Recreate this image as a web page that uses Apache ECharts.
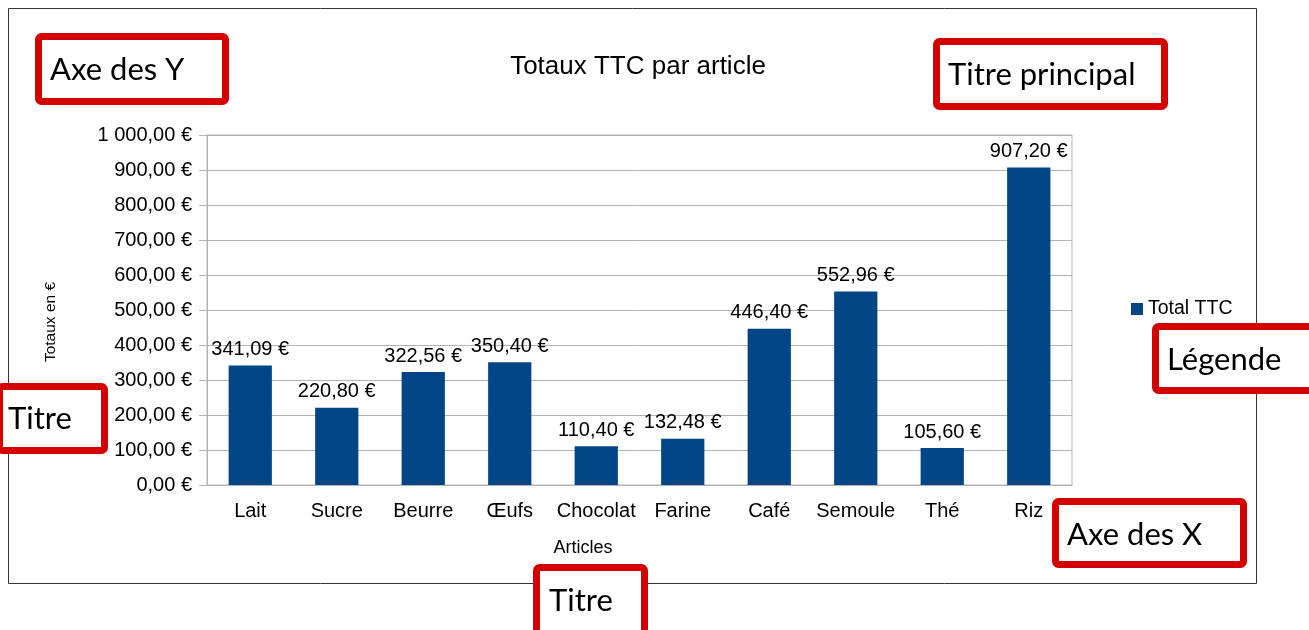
<!DOCTYPE html>
<html>
<head>
<meta charset="utf-8">
<script src="https://cdn.jsdelivr.net/npm/echarts@6/dist/echarts.min.js"></script>
<style>
  html, body { margin: 0; padding: 0; background: #fff; }
  #chart { width: 1309px; height: 630px; }
</style>
</head>
<body>
<div id="chart"></div>
<script>
// données du graphique
var articles = ['Lait', 'Sucre', 'Beurre', 'Œufs', 'Chocolat', 'Farine', 'Café', 'Semoule', 'Thé', 'Riz'];
var totauxTTC = [341.09, 220.80, 322.56, 350.40, 110.40, 132.48, 446.40, 552.96, 105.60, 907.20];
var serieNom = 'Total TTC';
var titreTexte = 'Totaux TTC par article';
var axeYNom = 'Totaux en €';
var axeXNom = 'Articles';
// encadrés rouges d'annotation
var annotations = ['Axe des Y', 'Titre principal', 'Titre', 'Légende', 'Titre', 'Axe des X'];

// 1000.5 -> "1 000,50 €"
function euro(v) {
    var s = Number(v).toFixed(2).split('.');
    var ent = s[0].replace(/\B(?=(\d{3})+(?!\d))/g, ' ');
    return ent + ',' + s[1] + ' €';
}

var police = 'Liberation Sans';
var gris = '#b3b3b3';
var rouge = '#d40000';
var noir = '#000';

// boite rouge + texte
function boite(txt, x1, y1, x2, y2, tx, ty) {
    return [{
        type: 'rect',
        shape: { x: x1 + 3.5, y: y1 + 3.5, width: x2 - x1 - 7, height: y2 - y1 - 7, r: 3 },
        style: { fill: '#fff', stroke: rouge, lineWidth: 7 },
        z: 100
    }, {
        type: 'text',
        x: tx, y: ty,
        style: { text: txt, fill: '#000', font: '31px Lato', verticalAlign: 'middle', align: 'left' },
        z: 101
    }];
}

var graphiques = [{
    type: 'rect',
    shape: { x: 8.5, y: 8.5, width: 1248, height: 575 },
    style: { fill: 'none', stroke: '#333', lineWidth: 1 },
    z: -1
}];
graphiques = graphiques
    .concat(boite(annotations[0], 35, 33, 229, 105, 50, 70))
    .concat(boite(annotations[1], 933, 38, 1168, 110, 948, 75))
    .concat(boite(annotations[2], -4, 383, 108, 454, 8, 419))
    .concat(boite(annotations[3], 1152, 323, 1316, 394, 1167, 360))
    .concat(boite(annotations[4], 533, 564, 648, 640, 549, 601))
    .concat(boite(annotations[5], 1052, 498, 1247, 568, 1067, 535));

var myChart = echarts.init(document.getElementById('chart'));
var options = {
    animation: false,
    title: {
        text: titreTexte,
        left: 633,
        top: 49,
        textAlign: 'center',
        textStyle: { fontFamily: police, fontSize: 26, fontWeight: 'normal', color: noir }
    },
    legend: {
        data: [serieNom],
        left: 1126,
        top: 294,
        icon: 'rect',
        itemWidth: 12,
        itemHeight: 12,
        itemGap: 6,
        textStyle: { fontFamily: police, fontSize: 19.5, color: noir }
    },
    grid: {
        left: 207, right: 237, top: 135, bottom: 145,
        show: true, borderColor: gris, borderWidth: 1
    },
    xAxis: {
        type: 'category',
        data: articles,
        name: axeXNom,
        nameLocation: 'middle',
        nameGap: 54,
        nameTextStyle: { fontFamily: police, fontSize: 18, color: noir, padding: [0, 113, 0, 0] },
        axisLine: { lineStyle: { color: gris } },
        axisTick: { length: 8, lineStyle: { color: gris } },
        axisLabel: { interval: 0, margin: 16, fontFamily: police, fontSize: 20, color: noir }
    },
    yAxis: {
        type: 'value',
        min: 0, max: 1000, interval: 100,
        name: axeYNom,
        nameLocation: 'middle',
        nameGap: 148,
        nameTextStyle: { fontFamily: police, fontSize: 15.5, color: noir, padding: [0, 24, 0, 0] },
        axisLine: { show: true, lineStyle: { color: gris } },
        axisTick: { show: true, length: 8, lineStyle: { color: gris } },
        splitLine: { lineStyle: { color: gris } },
        axisLabel: { margin: 15, fontFamily: police, fontSize: 20, color: noir, formatter: euro }
    },
    series: [{
        name: serieNom,
        type: 'bar',
        data: totauxTTC,
        barWidth: '50%',
        itemStyle: { color: '#004586' },
        label: {
            show: true,
            position: 'top',
            distance: 6,
            fontFamily: police,
            fontSize: 20,
            color: noir,
            formatter: function (p) { return euro(p.value); }
        }
    }],
    graphic: graphiques
};
myChart.setOption(options);
</script>
</body>
</html>
